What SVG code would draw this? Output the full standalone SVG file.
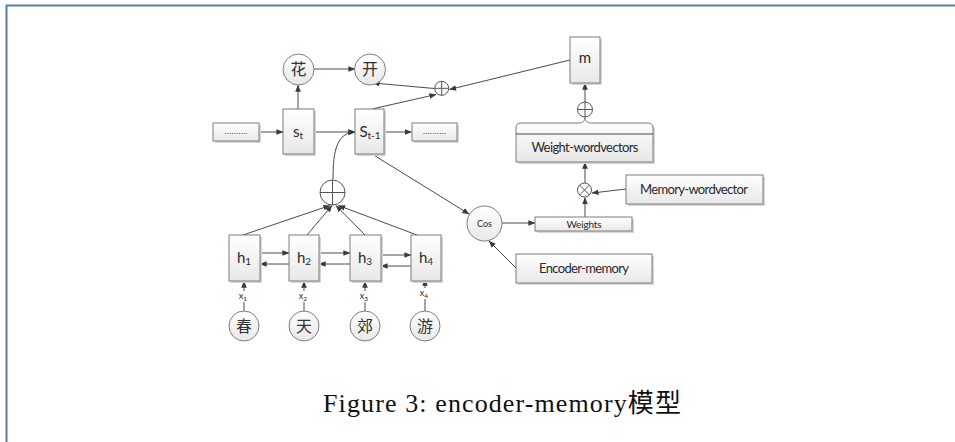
<svg xmlns="http://www.w3.org/2000/svg" width="955" height="442" viewBox="0 0 955 442">
<defs>
<linearGradient id="g" x1="0" y1="0" x2="0" y2="1"><stop offset="0" stop-color="#ffffff"/><stop offset="1" stop-color="#e8e8e8"/></linearGradient>
<marker id="ah" viewBox="0 0 10 10" refX="9.5" refY="5" markerWidth="7" markerHeight="7" markerUnits="userSpaceOnUse" orient="auto"><path d="M0,1 L10,5 L0,9 Z" fill="#3a3a3a"/></marker>
<style>
.box{fill:url(#g);stroke:#7d7d7d;stroke-width:1}
.sh{fill:#d6d6d6}
.cir{fill:url(#g);stroke:#7d7d7d;stroke-width:1}
.ln{fill:none;stroke:#4a4a4a;stroke-width:1}
.ar{fill:none;stroke:#4a4a4a;stroke-width:1;marker-end:url(#ah)}
.op{fill:#fff;stroke:#555;stroke-width:1}
.opl{fill:none;stroke:#555;stroke-width:1}
.t{font-family:Lato,"Open Sans","Liberation Sans",sans-serif;fill:#2a2a2a;text-anchor:middle}
.cjk{font-family:"Noto Sans CJK SC",sans-serif;fill:#333;text-anchor:middle;font-size:16px}
.cap{font-family:"Liberation Serif","Noto Sans CJK SC",serif;font-size:26px;fill:#111}
</style>
</defs>
<rect x="0" y="0" width="955" height="442" fill="#fff"/>
<path d="M6.5,442 V5.5 H955" stroke="#5a7ea9" stroke-width="2" fill="none"/>

<g id="connectors">
<path class="ar" d="M314,69 H355"/>
<path class="ar" d="M434.5,88.5 L373,83"/>
<path class="ar" d="M372,109 L436,94.5"/>
<path class="ar" d="M570,60 L449.5,89.5"/>
<path class="ar" d="M298,109 V85"/>
<path class="ar" d="M259,132 H283"/>
<path class="ar" d="M314,132 H355"/>
<path class="ar" d="M384,132 H411.5"/>
<path class="ar" d="M333,179.5 C333,150 337,133 355,132"/>
<path class="ar" d="M372,154 L469,214"/>
<path class="ar" d="M501.5,223 H535"/>
<path class="ar" d="M516,268 L489,241"/>
<path class="ar" d="M585,217 V197.5"/>
<path class="ar" d="M626,189 L592,193"/>
<path class="ar" d="M585,183 V162"/>
<path class="ar" d="M585,102 V83"/>
<path class="ar" d="M243,235 L330,205.5"/>
<path class="ar" d="M307,235 L332,205.5"/>
<path class="ar" d="M365,235 L336,205.5"/>
<path class="ar" d="M417,235 L338.5,205.5"/>
<path class="ar" d="M260,253 H289"/>
<path class="ar" d="M289,264 H260"/>
<path class="ar" d="M319,253 H350"/>
<path class="ar" d="M350,264 H319"/>
<path class="ar" d="M381,255 H411"/>
<path class="ar" d="M411,266 H381"/>
<path class="ln" d="M244,311 V302"/>
<path class="ar" d="M244,291 V281"/>
<path class="ln" d="M304,311 V302"/>
<path class="ar" d="M304,291 V281"/>
<path class="ln" d="M365,311 V302"/>
<path class="ar" d="M365,291 V281"/>
<path class="ln" d="M425,311 V299"/>
<path class="ar" d="M425,288 V279"/>
</g>

<g id="x-labels" class="t" font-size="9">
<text x="243" y="299">x<tspan font-size="6.5" dy="2">1</tspan></text>
<text x="303" y="299">x<tspan font-size="6.5" dy="2">2</tspan></text>
<text x="364" y="299">x<tspan font-size="6.5" dy="2">3</tspan></text>
<text x="424" y="296">x<tspan font-size="6.5" dy="2">4</tspan></text>
</g>

<g id="dots-left"><rect class="sh" x="215" y="125" width="46" height="18"/><rect class="box" x="213" y="123" width="46" height="18"/><text class="t" x="236" y="134" font-size="8" textLength="23">..........</text></g>
<g id="s-t"><rect class="sh" x="285" y="111" width="31" height="45"/><rect class="box" x="283" y="109" width="31" height="45"/><text class="t" x="298" y="137" font-size="15">s<tspan font-size="10" dy="2">t</tspan></text></g>
<g id="s-t-1"><rect class="sh" x="357" y="111" width="29" height="45"/><rect class="box" x="355" y="109" width="29" height="45"/><text class="t" x="370" y="137" font-size="15">S<tspan font-size="10" dy="2">t-1</tspan></text></g>
<g id="dots-right"><rect class="sh" x="414" y="125" width="45" height="18"/><rect class="box" x="412" y="123" width="45" height="18"/><text class="t" x="434.5" y="134" font-size="8" textLength="23">..........</text></g>
<g id="hua"><circle class="cir" cx="298.5" cy="69.5" r="15.5"/><text class="cjk" x="298.5" y="75">花</text></g>
<g id="kai"><circle class="cir" cx="370" cy="69.5" r="15.5"/><text class="cjk" x="370" y="75">开</text></g>
<g id="plus-top"><circle class="op" cx="441.7" cy="88.3" r="7"/><path class="opl" d="M434.7,88.3 H448.7 M441.7,81.3 V95.3"/></g>
<g id="m"><rect class="sh" x="572" y="39" width="30" height="46"/><rect class="box" x="570" y="37" width="30" height="46"/><text class="t" x="585" y="63" font-size="15">m</text></g>
<g id="plus-m"><circle class="op" cx="585" cy="109.5" r="7.5"/><path class="opl" d="M577.5,109.5 H592.5 M585,102 V117"/></g>
<g id="weight-wordvectors">
<path class="sh" d="M518,164 V130 Q518,125 523,125 H650 Q655,125 655,130 V164 Z"/>
<path class="box" d="M516,162 V128 Q516,123 521,123 H579 Q585,123 585,117 Q585,123 591,123 H648 Q653,123 653,128 V162 Z"/>
<path class="ln" d="M516,134 H653" stroke="#7d7d7d"/>
<text class="t" x="585" y="152" font-size="13" textLength="107">Weight-wordvectors</text>
</g>
<g id="times"><circle class="op" cx="584.5" cy="190" r="7"/><path class="opl" d="M579.5,185 L589.5,195 M589.5,185 L579.5,195"/></g>
<g id="memory-wordvector"><rect class="sh" x="628" y="177" width="137" height="29"/><rect class="box" x="626" y="175" width="137" height="29"/><text class="t" x="694" y="194" font-size="13" textLength="108">Memory-wordvector</text></g>
<g id="weights"><rect class="sh" x="537" y="219" width="97" height="14"/><rect class="box" x="535" y="217" width="97" height="14"/><text class="t" x="584" y="227.5" font-size="10" textLength="35">Weights</text></g>
<g id="cos"><circle class="cir" cx="484.5" cy="223.5" r="17.5"/><text class="t" x="484.5" y="226.5" font-size="9">Cos</text></g>
<g id="encoder-memory"><rect class="sh" x="518" y="256" width="136" height="29"/><rect class="box" x="516" y="254" width="136" height="29"/><text class="t" x="584" y="273" font-size="13" textLength="90">Encoder-memory</text></g>
<g id="plus-big"><circle class="op" cx="332.5" cy="192.5" r="12.5"/><path class="opl" d="M320,192.5 H345 M332.5,180 V205"/></g>
<g id="h1"><rect class="sh" x="231" y="237" width="31" height="46"/><rect class="box" x="229" y="235" width="31" height="46"/><text class="t" x="244" y="263" font-size="15">h<tspan font-size="10" dy="2">1</tspan></text></g>
<g id="h2"><rect class="sh" x="291" y="237" width="30" height="46"/><rect class="box" x="289" y="235" width="30" height="46"/><text class="t" x="304" y="263" font-size="15">h<tspan font-size="10" dy="2">2</tspan></text></g>
<g id="h3"><rect class="sh" x="352" y="237" width="31" height="46"/><rect class="box" x="350" y="235" width="31" height="46"/><text class="t" x="365" y="263" font-size="15">h<tspan font-size="10" dy="2">3</tspan></text></g>
<g id="h4"><rect class="sh" x="413" y="237" width="30" height="46"/><rect class="box" x="411" y="235" width="30" height="46"/><text class="t" x="426" y="263" font-size="15">h<tspan font-size="10" dy="2">4</tspan></text></g>
<g id="chun"><circle class="cir" cx="244" cy="326" r="15"/><text class="cjk" x="244" y="331.5">春</text></g>
<g id="tian"><circle class="cir" cx="304" cy="326" r="15"/><text class="cjk" x="304" y="331.5">天</text></g>
<g id="jiao"><circle class="cir" cx="365" cy="326" r="15"/><text class="cjk" x="365" y="331.5">郊</text></g>
<g id="you"><circle class="cir" cx="425" cy="326" r="15"/><text class="cjk" x="425" y="331.5">游</text></g>

<text class="cap" x="323" y="412" textLength="358" lengthAdjust="spacing">Figure 3: encoder-memory模型</text>
</svg>
